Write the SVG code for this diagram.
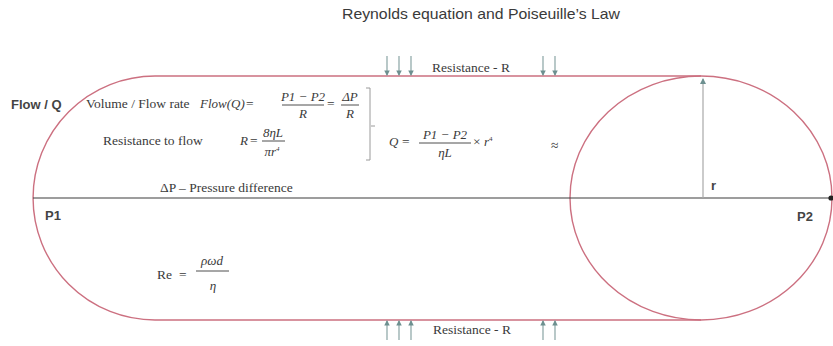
<svg xmlns="http://www.w3.org/2000/svg" width="833" height="346" viewBox="0 0 833 346">
<defs>
<style>
.shape{fill:none;stroke:#cc7080;stroke-width:1.4}
.sans{font-family:"Liberation Sans",Arial,sans-serif;fill:#3a3a3a}
.bold{font-family:"Liberation Sans",Arial,sans-serif;font-weight:bold;fill:#444;font-size:13px}
.serif{font-family:"Liberation Serif","Times New Roman",serif;fill:#3a3a3a;font-size:13.5px}
.it{font-family:"Liberation Serif","Times New Roman",serif;font-style:italic;fill:#3a3a3a;font-size:13px}
.mid{text-anchor:middle}
.bar{stroke:#3a3a3a;stroke-width:0.9}
.res{stroke:#7f9c9c;stroke-width:1.1;fill:none}
</style>
<marker id="ah" viewBox="0 0 6 6" refX="5" refY="3" markerWidth="5" markerHeight="5" orient="auto">
<path d="M0,0 L6,3 L0,6 z" fill="#6d9090"/>
</marker>
<marker id="dot" viewBox="0 0 6 6" refX="3" refY="3" markerWidth="5" markerHeight="5" orient="auto">
<circle cx="3" cy="3" r="2.6" fill="#222"/>
</marker>
</defs>
<rect width="833" height="346" fill="#ffffff"/>

<g id="title">
<text class="sans" x="342" y="19" font-size="15" textLength="278" lengthAdjust="spacingAndGlyphs">Reynolds equation and Poiseuille’s Law</text>
</g>

<g id="vessel">
<path class="shape" d="M701,76 H155 A122,122 0 0 0 155,320 H701"/>
</g>
<g id="cross-section">
<ellipse class="shape" cx="701" cy="198" rx="131" ry="122"/>
</g>

<g id="connectors">
<line x1="33" y1="198" x2="831" y2="198" stroke="#3d3d3d" stroke-width="1.2" marker-end="url(#dot)"/>
<line x1="703" y1="198" x2="703" y2="79" stroke="#a8a8a8" stroke-width="1.2" marker-end="url(#ah)"/>
<line class="res" x1="387" y1="56" x2="387" y2="75" marker-end="url(#ah)"/>
<line class="res" x1="399" y1="56" x2="399" y2="75" marker-end="url(#ah)"/>
<line class="res" x1="411" y1="56" x2="411" y2="75" marker-end="url(#ah)"/>
<line class="res" x1="543" y1="56" x2="543" y2="75" marker-end="url(#ah)"/>
<line class="res" x1="555" y1="56" x2="555" y2="75" marker-end="url(#ah)"/>
<line class="res" x1="387" y1="340" x2="387" y2="321" marker-end="url(#ah)"/>
<line class="res" x1="399" y1="340" x2="399" y2="321" marker-end="url(#ah)"/>
<line class="res" x1="411" y1="340" x2="411" y2="321" marker-end="url(#ah)"/>
<line class="res" x1="543" y1="340" x2="543" y2="321" marker-end="url(#ah)"/>
<line class="res" x1="555" y1="340" x2="555" y2="321" marker-end="url(#ah)"/>
</g>

<g id="labels">
<text class="serif" x="432" y="72">Resistance - R</text>
<text class="serif" x="433" y="334">Resistance - R</text>
<text class="bold" x="11" y="109" font-size="14">Flow / Q</text>
<text class="bold" x="45" y="220">P1</text>
<text class="bold" x="797" y="221">P2</text>
<text class="bold" x="711" y="190">r</text>
<text class="serif" x="160" y="192" font-size="14.5">ΔP – Pressure difference</text>
</g>

<g id="flow-rate">
<text class="serif" x="86" y="108">Volume / Flow rate</text>
<text class="it" x="200" y="108">Flow(Q)</text>
<text class="serif" x="246" y="108">=</text>
<text class="it mid" x="303" y="101">P1 − P2</text>
<line class="bar" x1="282" y1="105" x2="324" y2="105"/>
<text class="it mid" x="303" y="118">R</text>
<text class="serif" x="327" y="108">=</text>
<text class="it mid" x="350" y="101">ΔP</text>
<line class="bar" x1="341" y1="105" x2="359" y2="105"/>
<text class="it mid" x="350" y="118">R</text>
</g>

<g id="resistance">
<text class="serif" x="103" y="145">Resistance to flow</text>
<text class="it" x="240" y="145">R</text>
<text class="serif" x="250" y="145">=</text>
<text class="it mid" x="273" y="137">8ηL</text>
<line class="bar" x1="262" y1="141" x2="285" y2="141"/>
<text class="it mid" x="272" y="156">πr<tspan font-size="7" dy="-5">4</tspan></text>
</g>

<g id="bracket">
<path d="M366,88 H370 V160 H366 M371,126 H375" fill="none" stroke="#9a9a9a" stroke-width="1"/>
</g>

<g id="poiseuille">
<text class="it" x="389" y="146">Q</text>
<text class="serif" x="402" y="146">=</text>
<text class="it mid" x="445" y="139">P1 − P2</text>
<line class="bar" x1="419" y1="143" x2="471" y2="143"/>
<text class="it mid" x="445" y="157">ηL</text>
<text class="serif" x="473" y="146">× <tspan class="it">r</tspan><tspan font-size="7" dy="-5">4</tspan></text>
<text class="serif" x="551" y="150" font-size="7" fill="#777">≈</text>
</g>

<g id="reynolds">
<text class="serif" x="157" y="279" font-size="14">Re</text>
<text class="serif" x="179" y="279" font-size="14">=</text>
<text class="it mid" x="212" y="265" font-size="13">ρωd</text>
<line class="bar" x1="196" y1="271" x2="229" y2="271"/>
<text class="it mid" x="213" y="290" font-size="13">η</text>
</g>
</svg>
